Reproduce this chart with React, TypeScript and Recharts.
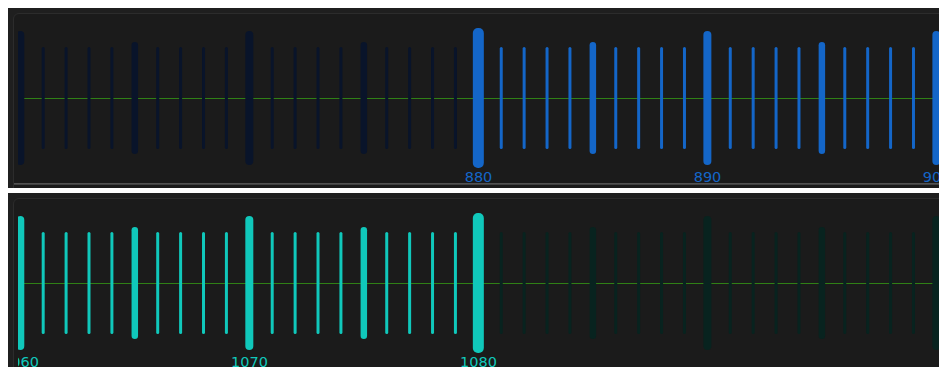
import { Bar, BarChart, XAxis, YAxis } from "recharts";

// ruler values, one tick per unit
const TOP_VALUES = [
  860, 861, 862, 863, 864, 865, 866, 867, 868, 869, 870, 871, 872, 873, 874, 875, 876, 877, 878, 879,
  880, 881, 882, 883, 884, 885, 886, 887, 888, 889, 890, 891, 892, 893, 894, 895, 896, 897, 898, 899, 900,
];
const BOTTOM_VALUES = [
  1060, 1061, 1062, 1063, 1064, 1065, 1066, 1067, 1068, 1069, 1070, 1071, 1072, 1073, 1074, 1075, 1076,
  1077, 1078, 1079, 1080, 1081, 1082, 1083, 1084, 1085, 1086, 1087, 1088, 1089, 1090, 1091, 1092, 1093,
  1094, 1095, 1096, 1097, 1098, 1099, 1100,
];
const TOP_SELECTED = 880;
const BOTTOM_SELECTED = 1080;
const TOP_LABELS = [880, 890, 900];
const BOTTOM_LABELS = [1060, 1070, 1080];

// half-lengths (px) and widths by tick kind
const HALF = { minor: 51, mid: 56, major: 67, selected: 70 };
const WIDTH = { minor: 3, mid: 6.5, major: 8, selected: 11 };

const BLUE = "#1466c8";
const BLUE_DIM = "#09142a";
const TEAL = "#10c8bb";
const TEAL_DIM = "#08231f";
const GREEN = "#2f8016";

type Kind = "minor" | "mid" | "major" | "selected";

function kindOf(v: number, selected: number): Kind {
  if (v === selected) return "selected";
  if (v % 10 === 0) return "major";
  if (v % 5 === 0) return "mid";
  return "minor";
}

function buildRows(values: number[], selected: number, activeAbove: boolean) {
  return values.map((v) => {
    const kind = kindOf(v, selected);
    const active = activeAbove ? v >= selected : v <= selected;
    return { v, kind, active, span: [-HALF[kind], HALF[kind]] };
  });
}

function TickShape(props: any) {
  const { x, y, width, height, payload, color, dim } = props;
  const w = WIDTH[payload.kind as Kind];
  const cx = x + width / 2;
  return (
    <rect
      x={cx - w / 2}
      y={y}
      width={w}
      height={height}
      rx={Math.min(w / 2, 5)}
      fill={payload.active ? color : dim}
    />
  );
}

function Panel({
  rows,
  labels,
  color,
  dim,
  bottomLine,
}: {
  rows: any[];
  labels: number[];
  color: string;
  dim: string;
  bottomLine: boolean;
}) {
  return (
    <div style={{ position: "relative", width: 931, height: 180, background: "#1f1f1f", overflow: "hidden", marginBottom: 5 }}>
      <div
        style={{
          position: "absolute",
          left: 5,
          top: 5,
          width: 940,
          height: 200,
          border: "1px solid #2c2c2c",
          borderRadius: 6,
          background: "#1b1b1b",
        }}
      />
      {bottomLine && (
        <div
          style={{
            position: "absolute",
            left: 6,
            top: 175,
            width: 930,
            height: 2,
            background: "linear-gradient(#5a5a5a, #3a3a3a)",
          }}
        />
      )}
      <div style={{ position: "absolute", left: 10, top: 0, width: 921, height: 180, overflow: "hidden" }}>
        <div style={{ position: "absolute", left: 0, top: 90, width: 921, height: 1, background: GREEN }} />
        <div style={{ position: "absolute", left: -9, top: 0 }}>
          <BarChart width={939} height={200} data={rows} margin={{ top: 0, right: 0, bottom: 0, left: 0 }}>
            <XAxis
              dataKey="v"
              height={20}
              axisLine={false}
              tickLine={false}
              tickSize={0}
              tickMargin={0}
              interval={0}
              ticks={labels}
              tick={(p: any) => (
                <text
                  x={p.x}
                  y={p.y}
                  dy={-6}
                  textAnchor="middle"
                  fontSize={14.5}
                  fontFamily="DejaVu Sans, sans-serif"
                  fill={color}
                >
                  {labels.includes(p.payload.value) ? p.payload.value : ""}
                </text>
              )}
            />
            <YAxis hide type="number" domain={[-90, 90]} />
            <Bar
              dataKey="span"
              isAnimationActive={false}
              shape={(p: any) => <TickShape {...p} color={color} dim={dim} />}
            />
          </BarChart>
        </div>
      </div>
    </div>
  );
}

export default function App() {
  const topRows = buildRows(TOP_VALUES, TOP_SELECTED, true);
  const bottomRows = buildRows(BOTTOM_VALUES, BOTTOM_SELECTED, false);
  return (
    <div style={{ position: "absolute", left: 8, top: 8, width: 931, height: 359, overflow: "hidden" }}>
      <Panel rows={topRows} labels={TOP_LABELS} color={BLUE} dim={BLUE_DIM} bottomLine />
      <Panel rows={bottomRows} labels={BOTTOM_LABELS} color={TEAL} dim={TEAL_DIM} bottomLine={false} />
    </div>
  );
}
